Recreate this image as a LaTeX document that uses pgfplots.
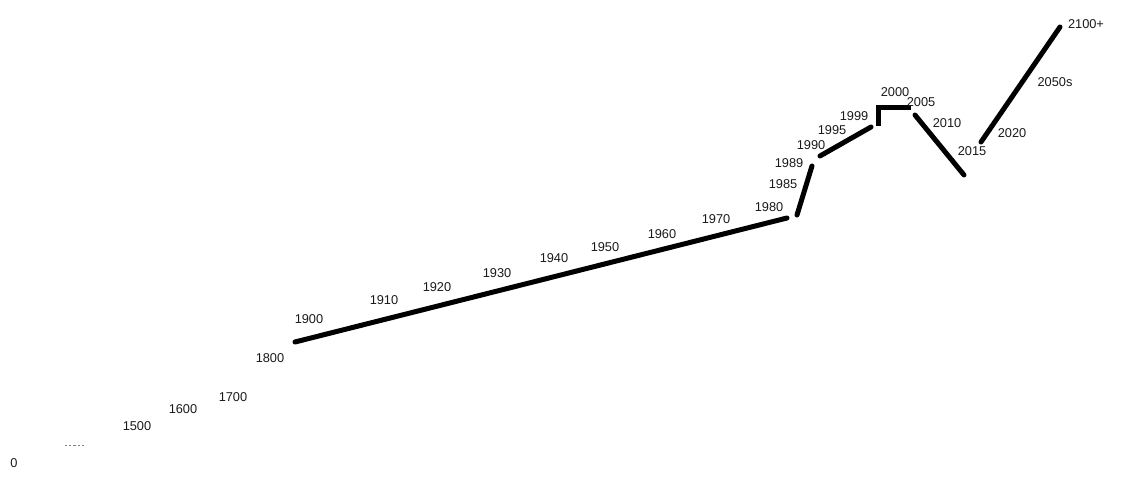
\documentclass[border=0pt]{standalone}
\usepackage{pgfplots}
\pgfplotsset{compat=1.18}
\usepackage{pgfplotstable}
\usepackage{fontspec}
\setmainfont{Liberation Sans}
\pgfplotstableread{
x y label
14 463 0
137 426 1500
183 409 1600
233 397 1700
270 358 1800
309 319 1900
384 300 1910
437 287 1920
497 273 1930
554 258 1940
605 247 1950
662 234 1960
716 219 1970
769 207 1980
783 184 1985
789 163 1989
811 145 1990
832 130 1995
854 116 1999
895 92 2000
921 102 2005
947 123 2010
972 151 2015
1012 133 2020
1055 82 2050s
1086 24 2100+
}\labels
\begin{document}
\begin{tikzpicture}
\begin{axis}[
  width=563pt, height=241pt, scale only axis,
  xmin=0, xmax=1126, ymin=0, ymax=482, y dir=reverse,
  hide axis, clip=false,
]
\addplot[black, line width=2.5pt, line cap=round] coordinates {(295,342) (787,218)};
\addplot[black, line width=2.5pt, line cap=round] coordinates {(797,215) (812,166)};
\addplot[black, line width=2.5pt, line cap=round] coordinates {(820,156) (871,127)};
\addplot[black, line width=2.5pt, line cap=butt, line join=miter] coordinates {(878,126) (878,107) (911,107)};
\addplot[black, line width=2.5pt, line cap=round] coordinates {(915,115) (964,175)};
\addplot[black, line width=2.5pt, line cap=round] coordinates {(981,142) (1060,27)};
\addplot[gray, line width=0.5pt, dash pattern=on 1.1pt off 1.0pt] coordinates {(65,445) (84,445)};
\addplot[only marks, mark=none, nodes near coords, point meta=explicit symbolic,
  every node near coord/.style={anchor=center, font=\fontsize{6.4}{7.5}\selectfont, text=black!90}]
  table[x=x, y=y, meta=label] {\labels};
\path (axis cs:0,0) rectangle (axis cs:1126,482);
\end{axis}
\end{tikzpicture}
\end{document}
